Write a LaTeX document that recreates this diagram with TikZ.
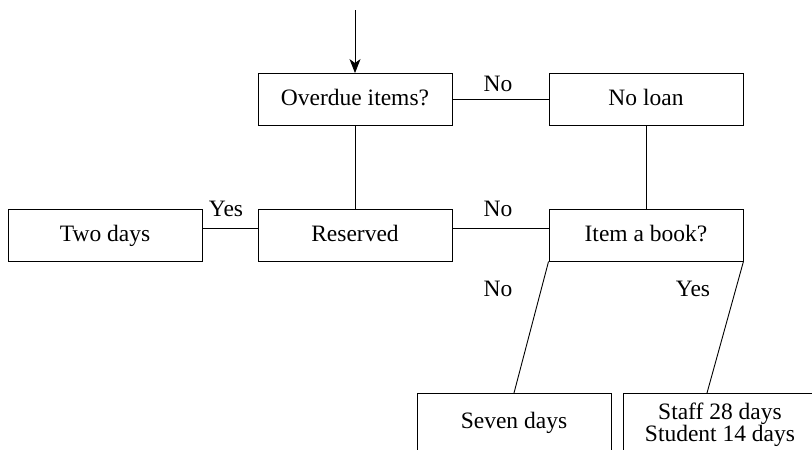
\documentclass[tikz,border=0pt]{standalone}
\usepackage{fontspec}
\setmainfont{Liberation Serif}
\usetikzlibrary{arrows.meta}
\begin{document}
\begin{tikzpicture}[x=1pt,y=-1pt,
  every node/.style={font=\fontsize{23.5}{22}\selectfont, inner sep=0pt},
  box/.style={draw, line width=0.9pt, minimum width=194pt, minimum height=52pt, align=center, text height=16pt, text depth=4pt},
  lbl/.style={anchor=base},
  conn/.style={line width=0.9pt}]
\useasboundingbox (0,0) rectangle (812,450);
% boxes
\node[box] (over) at (355,99.5) {Overdue items?};
\node[box] (noloan) at (646,99.5) {No loan};
\node[box] (two) at (105,235) {Two days};
\node[box] (res) at (355,235) {Reserved};
\node[box] (item) at (646,235) {Item a book?};
% bottom boxes (cut off at the lower edge)
\node[anchor=base] (seven) at (514,428) {Seven days};
\node[anchor=base, align=center] (staff) at (720,441) {Staff 28 days\\Student 14 days};
\coordinate (sevtl) at (417,393);
\coordinate (sevtr) at (611,393);
\coordinate (staftl) at (623,393);
\draw[conn] (417,452) -- (sevtl) -- (sevtr) -- (611,452);
\draw[conn] (623,452) -- (staftl) -- (814,393);
\coordinate (sevtop) at (514,393);
\coordinate (staftop) at (707,393);
\coordinate (start) at (355,10);
% connectors
\draw[conn, -{Stealth[length=14pt,width=11pt,inset=4pt]}] (start) -- (over.north);
\draw[conn] (over.east) -- (noloan.west);
\draw[conn] (over.south) -- (res.north);
\draw[conn] (noloan.south) -- (item.north);
\draw[conn] ([yshift=7pt]two.east) -- ([yshift=7pt]res.west);
\draw[conn] ([yshift=7pt]res.east) -- ([yshift=7pt]item.west);
\draw[conn] (item.south west) -- (sevtop);
\draw[conn] (item.south east) -- (staftop);
% labels
\node[lbl] (l1) at (498,91) {No};
\node[lbl] (l2) at (226,216) {Yes};
\node[lbl] (l3) at (498,216) {No};
\node[lbl] (l4) at (498,296) {No};
\node[lbl] (l5) at (693,296) {Yes};
\end{tikzpicture}
\end{document}
